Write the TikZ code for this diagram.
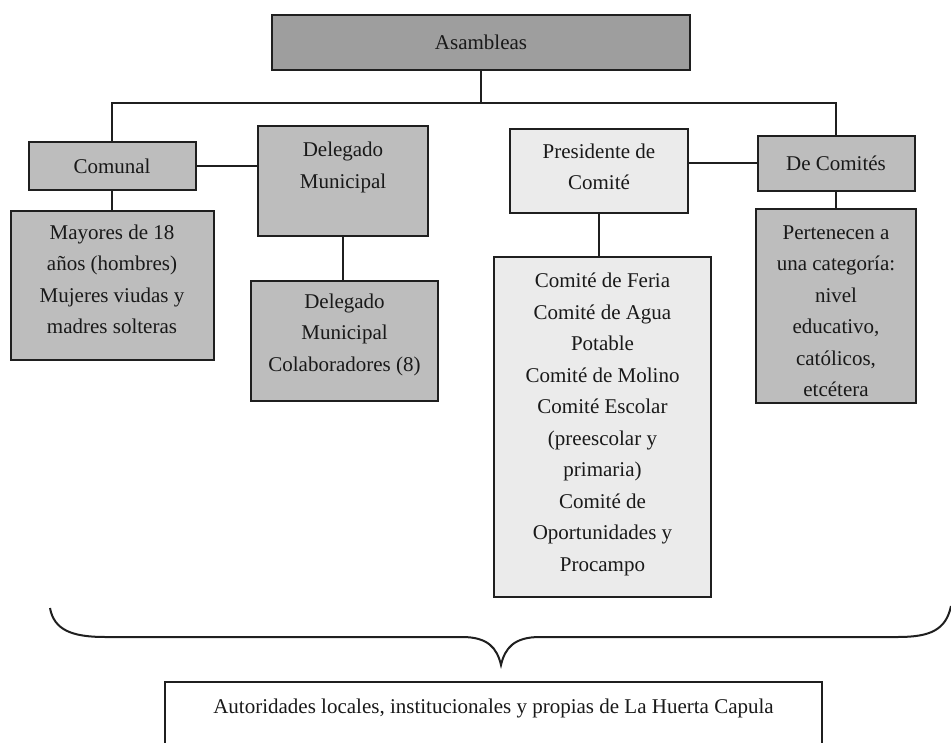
\documentclass[tikz,border=0pt]{standalone}
\usepackage{fontspec}
\setmainfont{Liberation Serif}
\usetikzlibrary{calc}

\begin{document}
\begin{tikzpicture}[x=1pt, y=-1pt,
		caja/.style={draw=black!88, line width=2pt, align=center, inner sep=0pt, text=black!90, font=\fontsize{21}{31.5}\selectfont},
		oscura/.style={caja, fill=black!38},
		media/.style={caja, fill=black!26},
		clara/.style={caja, fill=black!8},
		linea/.style={line width=2pt, black!88}]
		%%%%% START %%%%%
		
		\useasboundingbox (0,0) rectangle (951,743);
		
		\node[oscura, minimum width=418, minimum height=55] (asam) at (481,42.5) {Asambleas};
		\coordinate (bus) at (481,103);
		
		\node[media, minimum width=167, minimum height=48] (comunal) at (112,166) {Comunal};
		\node[media, minimum width=170, minimum height=110] (deleg) at (343,181) {Delegado\\Municipal\\\mbox{}};
		\node[clara, minimum width=178, minimum height=84] (presi) at (599,171) {Presidente de\\Comité\\[-23pt]\mbox{}};
		\node[media, minimum width=157, minimum height=55] (decom) at (836,163.5) {De Comités};
		
		\node[media, minimum width=203, minimum height=149] (mayores) at (112,285.5) {Mayores de 18\\años (hombres)\\Mujeres viudas y\\madres solteras\\[-19pt]\mbox{}};
		\node[media, minimum width=187, minimum height=120] (colab) at (344.5,341) {Delegado\\Municipal\\Colaboradores (8)\\[-14pt]\mbox{}};
		\node[clara, minimum width=217, minimum height=340] (comites) at (602.5,427) {Comité de Feria\\Comité de Agua\\Potable\\Comité de Molino\\Comité Escolar\\(preescolar y\\primaria)\\Comité de\\Oportunidades y\\Procampo\\[-21.5pt]\mbox{}};
		\node[media, minimum width=160, minimum height=194] (perten) at (836,306) {\rule{0pt}{24pt}Pertenecen a\\una categoría:\\nivel\\educativo,\\católicos,\\etcétera};
		
		\draw[linea] (asam.south) -- (bus);
		\draw[linea] (comunal.north) |- (bus) -| (decom.north);
		\draw[linea] (comunal.east) -- (comunal.east -| deleg.west);
		\draw[linea] (decom.west) -- (decom.west -| presi.east);
		\draw[linea] (comunal.south) -- (mayores.north);
		\draw[linea] (deleg.south) -- (deleg.south |- colab.north);
		\draw[linea] (presi.south) -- (presi.south |- comites.north);
		\draw[linea] (decom.south) -- (decom.south |- perten.north);
		
		% llave
		\draw[linea] (50,608) .. controls (54,630) and (72,637) .. (105,637) -- (462,637) .. controls (488,637) and (497,648) .. (501,665) .. controls (505,648) and (514,637) .. (540,637) -- (898,637) .. controls (930,637) and (946,630) .. (951,606);
		
		\node[caja, fill=white, minimum width=657, text height=31pt, text depth=70pt, anchor=north] (autor) at (493.5,681) {Autoridades locales, institucionales y propias de La Huerta Capula};
		
		%%%%% END %%%%%
	\end{tikzpicture}
\end{document}
